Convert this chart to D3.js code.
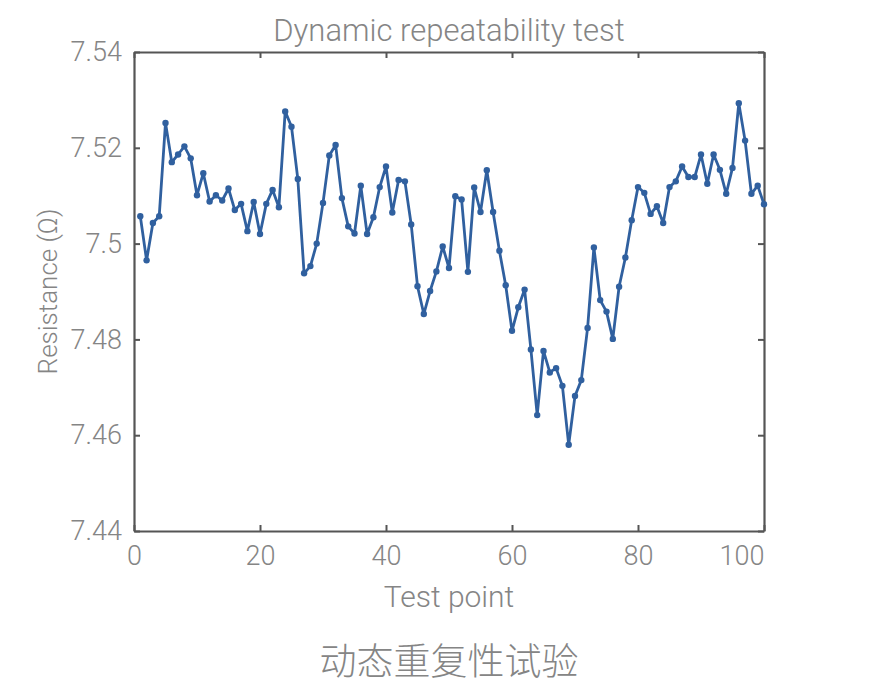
<!DOCTYPE html>
<html>
<head>
<meta charset="utf-8">
<script src="https://cdn.jsdelivr.net/npm/d3@7"></script>
<style>
  body { margin: 0; background: #fff; }
  text { font-family: Roboto, "Noto Sans", sans-serif; font-weight: 300; fill: #858585; }
</style>
</head>
<body>
<div id="chart"></div>
<script>
// Resistance readings, test points 1..100
const resistance = [
  7.5057, 7.4965, 7.5043, 7.5057, 7.5252, 7.5170, 7.5186, 7.5203, 7.5178, 7.5101,
  7.5147, 7.5088, 7.5101, 7.5090, 7.5115, 7.5070, 7.5083, 7.5026, 7.5087, 7.5020,
  7.5083, 7.5112, 7.5076, 7.5276, 7.5244, 7.5135, 7.4938, 7.4953, 7.5000, 7.5085,
  7.5184, 7.5206, 7.5095, 7.5036, 7.5021, 7.5121, 7.5020, 7.5055, 7.5118, 7.5161,
  7.5065, 7.5133, 7.5130, 7.5040, 7.4911, 7.4853, 7.4901, 7.4942, 7.4994, 7.4949,
  7.5099, 7.5092, 7.4941, 7.5117, 7.5066, 7.5153, 7.5066, 7.4985, 7.4913, 7.4818,
  7.4867, 7.4904, 7.4779, 7.4642, 7.4776, 7.4731, 7.4740, 7.4703, 7.4580, 7.4682,
  7.4715, 7.4824, 7.4992, 7.4882, 7.4858, 7.4801, 7.4910, 7.4971, 7.5049, 7.5118,
  7.5106, 7.5062, 7.5078, 7.5043, 7.5118, 7.5130, 7.5161, 7.5139, 7.5139, 7.5186,
  7.5125, 7.5186, 7.5154, 7.5104, 7.5158, 7.5293, 7.5215, 7.5104, 7.5121, 7.5082
];
const testPoints = resistance.map((v, i) => i + 1);

const xTicks = [0, 20, 40, 60, 80, 100];
const yTicks = [7.44, 7.46, 7.48, 7.50, 7.52, 7.54];
const yTickLabels = ['7.44', '7.46', '7.48', '7.5', '7.52', '7.54'];

const titleText = 'Dynamic repeatability test';
const xLabel = 'Test point';
const yLabel = 'Resistance (Ω)';
const caption = '动态重复性试验';

document.addEventListener('DOMContentLoaded', function() {
  const W = 891, H = 688;
  const margin = { top: 52, right: 127, bottom: 157, left: 134 };
  const width = W - margin.left - margin.right;
  const height = H - margin.top - margin.bottom;

  const svg = d3.select('#chart')
    .append('svg')
    .attr('width', W)
    .attr('height', H);

  const g = svg.append('g')
    .attr('transform', `translate(${margin.left},${margin.top})`);

  const x = d3.scaleLinear().domain([0, 100]).range([0, width]);
  const y = d3.scaleLinear().domain([7.44, 7.54]).range([height, 0]);

  const axisColor = '#555';
  const tickLen = 6;

  // inward ticks on all four sides (box style)
  const bottom = g.append('g')
    .attr('transform', `translate(0,${height})`)
    .call(d3.axisBottom(x).tickValues(xTicks).tickSizeInner(-tickLen).tickSizeOuter(0).tickPadding(15));
  const top = g.append('g')
    .call(d3.axisTop(x).tickValues(xTicks).tickSizeInner(-tickLen).tickSizeOuter(0).tickFormat(''));
  const left = g.append('g')
    .call(d3.axisLeft(y).tickValues(yTicks).tickSizeInner(-tickLen).tickSizeOuter(0).tickPadding(12)
      .tickFormat((d, i) => yTickLabels[i]));
  const right = g.append('g')
    .attr('transform', `translate(${width},0)`)
    .call(d3.axisRight(y).tickValues(yTicks).tickSizeInner(-tickLen).tickSizeOuter(0).tickFormat(''));

  [bottom, top, left, right].forEach(a => {
    a.select('.domain').attr('stroke', axisColor).attr('stroke-width', 2.2);
    a.selectAll('.tick line').attr('stroke', axisColor).attr('stroke-width', 2);
    a.selectAll('.tick text')
      .style('font-family', 'Roboto, "Noto Sans", sans-serif')
      .style('font-weight', 300)
      .style('font-size', '27px')
      .attr('fill', '#858585');
  });
  // the last x label sits inside the frame
  bottom.selectAll('.tick text').filter(d => d === 100)
    .attr('text-anchor', 'end').attr('dx', 0);

  // series
  const line = d3.line()
    .x((d, i) => x(testPoints[i]))
    .y(d => y(d));

  const blue = '#30609f';
  g.append('path')
    .datum(resistance)
    .attr('fill', 'none')
    .attr('stroke', blue)
    .attr('stroke-width', 2.8)
    .attr('stroke-linejoin', 'round')
    .attr('d', line);

  g.selectAll('.dot')
    .data(resistance)
    .enter()
    .append('circle')
    .attr('class', 'dot')
    .attr('cx', (d, i) => x(testPoints[i]))
    .attr('cy', d => y(d))
    .attr('r', 3.2)
    .attr('fill', blue);

  // texts
  svg.append('text')
    .attr('x', margin.left + width / 2)
    .attr('y', 41)
    .attr('text-anchor', 'middle')
    .style('font-size', '31px')
    .text(titleText);

  svg.append('text')
    .attr('x', margin.left + width / 2)
    .attr('y', 607)
    .attr('text-anchor', 'middle')
    .style('font-size', '30px')
    .text(xLabel);

  svg.append('text')
    .attr('transform', 'rotate(-90)')
    .attr('x', -(margin.top + height / 2))
    .attr('y', 57)
    .attr('text-anchor', 'middle')
    .style('font-size', '26px')
    .text(yLabel);

  svg.append('text')
    .attr('x', margin.left + width / 2)
    .attr('y', 675)
    .attr('text-anchor', 'middle')
    .style('font-family', '"Noto Sans CJK SC", sans-serif')
    .style('font-weight', 300)
    .style('font-size', '37px')
    .attr('fill', '#7a7a7a')
    .text(caption);
});
</script>
</body>
</html>
